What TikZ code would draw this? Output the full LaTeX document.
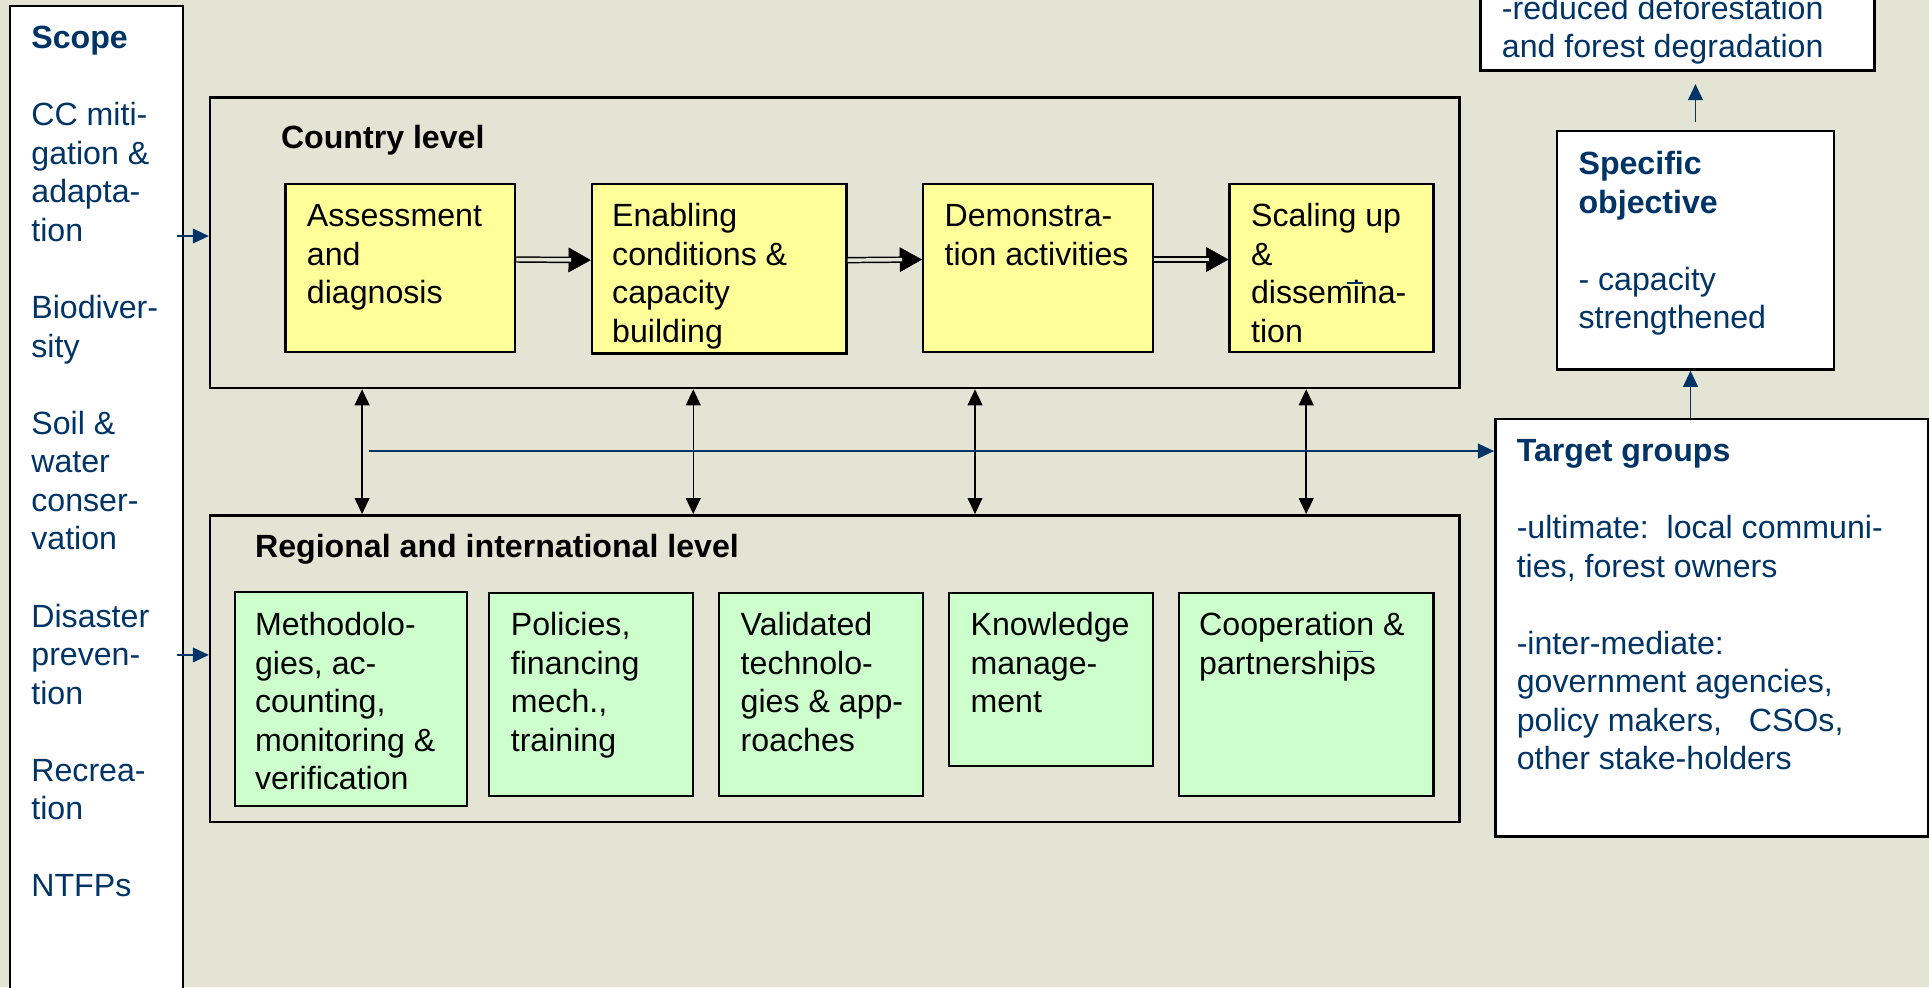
\documentclass[tikz,border=0pt]{standalone}
\usepackage{fontspec}
\setmainfont{Liberation Sans}
\usetikzlibrary{arrows.meta,fit}
\definecolor{bgc}{RGB}{228,228,213}
\definecolor{yel}{RGB}{255,255,153}
\definecolor{grn}{RGB}{204,255,204}
\definecolor{navy}{RGB}{0,51,102}
\newcommand\fsz{\fontsize{13}{15.6}\selectfont}
\newcommand\st{\rule{0pt}{11pt}}
\begin{document}
\begin{tikzpicture}[x=0.5pt,y=-0.5pt,
  outer/.style={draw=black, line width=1pt, fill=bgc, inner sep=0pt},
  wbox/.style={draw=black, line width=1pt, fill=white, inner sep=0pt},
  ybox/.style={draw=black, line width=0.9pt, fill=yel, inner sep=0pt},
  gbox/.style={draw=black, line width=0.9pt, fill=grn, inner sep=0pt},
  txt/.style={anchor=north west, inner sep=0pt, align=left, font=\fsz},
  btxt/.style={txt, font=\fsz\bfseries},
  barrow/.style={draw=navy, line width=0.6pt, -{Triangle[length=6.5pt,width=6pt]}},
  bidir/.style={draw=black, line width=0.6pt, {Triangle[length=6.5pt,width=6pt]}-{Triangle[length=6.5pt,width=6pt]}},
  dbl/.style={draw=black, line width=0.6pt, double=bgc, double distance=1.4pt, shorten >=8pt},
  dblhead/.style={draw=black, line width=0.2pt, -{Triangle[length=9pt,width=10pt]}}
]
\useasboundingbox (0,0) rectangle (1561,798.7);
\clip (0,0) rectangle (1561,798.7);
\fill[bgc] (0,0) rectangle (1561,798.7);

% boxes
\node[wbox, fit={(8,5) (148,830)}] (scope) {};
\node[outer, fit={(170,79) (1181,314)}] (country) {};
\node[outer, fit={(170,417) (1181,665)}] (regional) {};
\node[ybox, fit={(231,149) (417,285)}] (asm) {};
\node[ybox, fit={(479,149) (685,286)}] (ena) {};
\node[ybox, fit={(747,149) (933,285)}] (dem) {};
\node[ybox, fit={(995,149) (1160,285)}] (scl) {};
\node[gbox, fit={(190,479) (378,652)}] (meth) {};
\node[gbox, fit={(396,480) (561,644)}] (pol) {};
\node[gbox, fit={(582,480) (747,644)}] (val) {};
\node[gbox, fit={(768,480) (933,620)}] (know) {};
\node[gbox, fit={(954,480) (1160,644)}] (coop) {};
\node[wbox, fit={(1210,339) (1560,677)}] (target) {};
\node[wbox, fit={(1260,106) (1484,299)}] (spec) {};
\node[wbox, fit={(1198,-20) (1517,57)}] (goal) {};

% texts
\node[txt, text=navy] (scopeT) at (25,17) {\st\textbf{Scope}\\[15.6pt]CC miti-\\gation \&\\adapta-\\tion\\[15.6pt]Biodiver-\\sity\\[15.6pt]Soil \&\\water\\conser-\\vation\\[15.6pt]Disaster\\preven-\\tion\\[15.6pt]Recrea-\\tion\\[15.6pt]NTFPs};
\node[btxt] (countryT) at (227,98) {\st Country level};
\node[txt] (asmT) at (248,161) {\st Assessment\\and\\diagnosis};
\node[txt] (enaT) at (495,161) {\st Enabling\\conditions \&\\capacity\\building};
\node[txt] (demT) at (764,161) {\st Demonstra-\\tion activities};
\node[txt] (sclT) at (1012,161) {\st Scaling up\\\&\\dissemina-\\tion};
\node[btxt] (regionalT) at (206,429) {\st Regional and international level};
\node[txt] (methT) at (206,492) {\st Methodolo-\\gies, ac-\\counting,\\monitoring \&\\verification};
\node[txt] (polT) at (413,492) {\st Policies,\\financing\\mech.,\\training};
\node[txt] (valT) at (599,492) {\st Validated\\technolo-\\gies \& app-\\roaches};
\node[txt] (knowT) at (785,492) {\st Knowledge\\manage-\\ment};
\node[txt] (coopT) at (970,492) {\st Cooperation \&\\partnerships};
\node[txt, text=navy] (targetT) at (1227,351) {\st\textbf{Target groups}\\[15.6pt]-ultimate:\ \ local communi-\\ties, forest owners\\[15.6pt]-inter-mediate:\\government agencies,\\policy makers,\ \ \ CSOs,\\other stake-holders};
\node[txt, text=navy] (specT) at (1277,119) {\st\textbf{Specific}\\\textbf{objective}\\[15.6pt]- capacity\\strengthened};
\node[txt, text=navy] (goalT) at (1215,-7) {\st -reduced deforestation\\and forest degradation};

% double arrows in country level
\foreach \a/\b in {asm/ena, ena/dem, dem/scl}{
  \draw[dblhead] ([yshift=3.5pt]\a.east) -- ([yshift=3.5pt]\b.west);
  \draw[dbl] ([yshift=3.5pt]\a.east) -- ([yshift=3.5pt]\b.west);
}

% vertical two-way arrows
\coordinate (v1) at (293,0);
\coordinate (v2) at (561,0);
\coordinate (v3) at (789,0);
\coordinate (v4) at (1057,0);
\foreach \v in {v1,v2,v3,v4}{
  \draw[bidir] (country.south -| \v) -- (regional.north -| \v);
}

% blue arrows
\coordinate (s1) at (143,191);
\coordinate (s2) at (143,530);
\draw[barrow] (s1) -- (s1 -| country.west);
\draw[barrow] (s2) -- (s2 -| regional.west);
\coordinate (h0) at (299,365);
\draw[barrow] (h0) -- (h0 -| target.west);
\coordinate (t1) at (1368,0);
\draw[barrow] (target.north -| t1) -- (spec.south -| t1);
\draw[barrow] ([yshift=3pt]spec.north) -- ([yshift=-5pt]goal.south -| spec.north);

% small stray marks
\draw[navy, line width=0.5pt] (1090,229) -- (1103,229);
\draw[navy, line width=0.5pt] (1090,527) -- (1103,527);
\end{tikzpicture}
\end{document}
